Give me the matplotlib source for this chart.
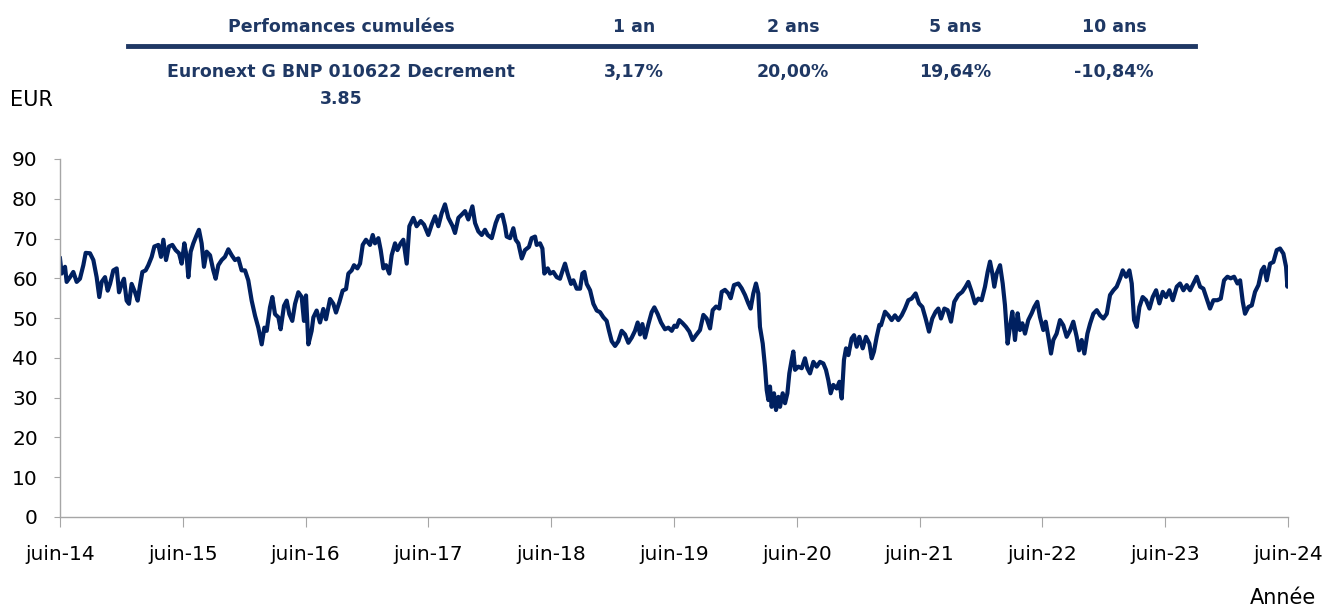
import matplotlib
matplotlib.use("Agg")
import matplotlib.pyplot as plt

# ----------------------------
# Data
# ----------------------------
# months since juin-14
mois = [
    0, 0.16, 0.49, 0.65, 0.98, 1.30, 1.63, 1.95, 2.28, 2.51, 2.93, 3.26, 3.58, 3.84, 4.07,
    4.40, 4.66, 4.89, 5.21, 5.54, 5.77, 6.03, 6.25, 6.51, 6.74, 7.00, 7.33, 7.59, 7.82, 8.05,
    8.37, 8.63, 8.96, 9.22, 9.61, 9.87, 10.10, 10.36, 10.65, 10.98, 11.30, 11.63, 11.89, 12.15,
    12.38, 12.54, 12.77, 13.03, 13.36, 13.58, 13.84, 14.07, 14.33, 14.66, 14.98, 15.21, 15.47,
    15.80, 16.12, 16.45, 16.78, 17.10, 17.43, 17.75, 18.08, 18.40, 18.73, 19.06, 19.38, 19.71,
    19.97,
    20.20, 20.52, 20.75, 21.01, 21.34, 21.56, 21.89, 22.15, 22.41, 22.70, 22.97, 23.29, 23.62,
    23.84, 24.04, 24.27, 24.59, 24.76, 25.08, 25.41, 25.73, 25.99, 26.39, 26.71, 26.97, 27.30,
    27.62, 27.95, 28.18, 28.50, 28.73, 29.06, 29.32, 29.58, 29.90, 30.29, 30.56, 30.78, 31.11,
    31.34, 31.60, 31.86, 32.18, 32.41, 32.74, 32.97, 33.29, 33.55, 33.88, 34.14, 34.53, 34.85,
    35.25, 35.57, 35.99, 36.32, 36.65, 36.97, 37.30, 37.62, 37.95, 38.37, 38.60, 38.93, 39.25,
    39.58, 39.90,
    40.30, 40.56, 40.88, 41.21, 41.53, 41.79, 42.19, 42.58, 42.84, 43.23, 43.49, 43.65, 43.98,
    44.30, 44.53, 44.79, 45.12, 45.44, 45.83, 46.09, 46.42, 46.58, 46.91, 47.14, 47.33, 47.66,
    47.89, 48.21, 48.54, 48.86, 49.12, 49.35, 49.61, 49.94, 50.17, 50.49, 50.82, 51.05, 51.24,
    51.47, 51.80, 52.12, 52.45, 52.77, 53.10, 53.42, 53.65, 53.91, 54.24, 54.56, 54.89, 55.21,
    55.54, 55.87, 56.19, 56.45, 56.68, 56.91, 57.17, 57.50, 57.82, 58.08, 58.41, 58.73, 59.12,
    59.45, 59.78, 60.04,
    60.26, 60.52, 60.85, 61.17, 61.50, 61.82, 62.15, 62.54, 62.87, 63.19, 63.52, 63.78, 64.11,
    64.43, 64.66, 64.98, 65.31, 65.54, 65.86, 66.29, 66.61, 66.94, 67.26, 67.49, 67.75, 68.01,
    68.24, 68.40, 68.67, 68.89, 69.06, 69.22, 69.38, 69.54, 69.77, 69.97, 70.20, 70.36, 70.62,
    70.85, 71.08, 71.27, 71.50, 71.66, 71.83, 72.15, 72.48, 72.80, 73.03, 73.29, 73.62, 73.94,
    74.27, 74.59, 74.85, 75.08, 75.31, 75.57, 75.90, 76.16, 76.39, 76.61, 76.81, 77.04, 77.36,
    77.59, 77.85, 78.11, 78.44, 78.76, 79.09, 79.32, 79.54, 79.81, 80.07,
    80.23, 80.62, 80.94, 81.27, 81.59, 81.92, 82.25, 82.57, 82.90, 83.22, 83.61, 83.94, 84.27,
    84.59, 84.92, 85.24, 85.57, 85.83, 86.09, 86.42, 86.74, 87.07, 87.39, 87.78, 88.17, 88.50,
    88.76, 89.09, 89.41, 89.74, 90.06, 90.39, 90.65, 90.88, 91.11, 91.30, 91.53, 91.86, 92.12,
    92.34, 92.60, 92.83, 93.06, 93.32, 93.58, 93.81, 94.04, 94.30, 94.62, 94.95, 95.21, 95.50,
    95.76, 96.09, 96.32, 96.58, 96.84, 97.07, 97.39, 97.72, 98.04, 98.37, 98.70, 99.02, 99.35,
    99.58, 99.84, 100.10,
    100.40, 100.66, 100.98, 101.31, 101.63, 101.96, 102.29, 102.61, 102.94, 103.26, 103.59,
    103.85, 104.18, 104.50, 104.73, 104.96, 105.22, 105.48, 105.80, 106.13, 106.46, 106.78,
    107.11, 107.43, 107.76, 108.08, 108.41, 108.74, 109.13, 109.45, 109.78, 110.10, 110.43,
    110.75, 111.08, 111.41, 111.73, 112.06, 112.38, 112.71, 113.10, 113.43, 113.75, 114.08,
    114.40, 114.73, 115.06, 115.32, 115.58, 115.80, 116.13, 116.46, 116.78, 117.11, 117.43,
    117.66, 117.92, 118.25, 118.57, 118.90, 119.22, 119.55, 119.81, 119.94, 120.0,
]

# price in EUR
cours = [
    65.0, 61.2, 62.9, 59.1, 60.3, 61.6, 59.1, 59.9, 63.3, 66.4, 66.3, 64.6, 60.3, 55.3, 59.1,
    60.3, 56.9, 58.6, 62.0, 62.5, 56.5, 58.6, 59.9, 54.4, 53.6, 58.6, 56.5, 54.4, 58.2, 61.6,
    62.0, 63.3, 65.4, 68.0, 68.4, 65.4, 69.7, 64.6, 68.0, 68.4, 67.1, 66.3, 63.7, 68.8,
    65.4, 60.3, 66.7, 68.8, 70.9, 72.2, 68.8, 62.9, 66.7, 65.8, 62.0, 59.9, 63.3,
    64.6, 65.4, 67.3, 65.8, 64.6, 65.0, 62.0, 62.0, 59.5, 54.4, 50.6, 47.6, 43.4,
    47.6,
    46.8, 52.7, 55.3, 51.0, 50.2, 47.2, 53.1, 54.4, 51.0, 49.3, 53.6, 56.5, 55.3,
    49.3, 55.7, 43.4, 46.8, 50.2, 51.9, 48.9, 52.3, 49.7, 54.8, 53.6, 51.4, 54.0,
    56.9, 57.3, 61.2, 62.0, 63.3, 62.5, 63.7, 68.4, 69.7, 68.4, 70.9, 68.8, 70.1,
    67.1, 62.5, 63.3, 61.2, 65.8, 68.8, 67.1, 68.8, 69.7, 63.7, 73.1, 75.2, 73.1,
    74.4, 73.5, 70.9, 73.5, 75.6, 73.1, 76.4, 78.6, 75.2, 73.1, 71.4, 75.2, 76.0,
    76.9, 74.8,
    78.1, 73.9, 71.8, 70.9, 72.2, 70.9, 70.1, 73.9, 75.6, 76.0, 73.1, 70.5, 70.1,
    72.6, 69.7, 68.8, 65.0, 67.1, 67.9, 70.1, 70.5, 68.4, 68.8, 67.5, 61.2, 62.5,
    61.2, 61.6, 60.3, 59.9, 62.0, 63.7, 61.2, 58.6, 59.5, 57.4, 57.4, 61.2, 61.6,
    58.6, 57.0, 53.6, 51.9, 51.5, 50.2, 49.3, 46.8, 44.2, 43.0, 44.2, 46.8, 45.9,
    43.8, 45.1, 46.8, 48.9, 45.9, 48.5, 45.1, 48.5, 51.5, 52.7, 51.0, 48.9, 47.2,
    47.6, 46.8, 48.1,
    47.8, 49.5, 48.7, 47.8, 46.6, 44.5, 45.7, 47.0, 50.8, 49.9, 47.4, 52.0, 52.9,
    52.4, 56.6, 57.1, 56.2, 55.0, 58.3, 58.7, 57.5, 55.8, 53.7, 52.4, 56.2, 58.7,
    56.2, 47.8, 43.6, 37.8, 31.9, 29.4, 32.8, 27.7, 31.1, 26.9, 30.2, 27.7, 31.1,
    28.6, 31.1, 36.1, 39.5, 41.6, 37.0, 37.8, 37.4, 39.9, 37.4, 36.1, 39.0, 37.8,
    39.0, 38.6, 37.0, 34.4, 31.1, 33.2, 32.3, 34.0, 29.8, 39.5, 42.4, 40.7, 44.9,
    45.7, 42.8, 45.3, 42.4, 45.3, 43.6, 39.9, 41.6, 45.3, 48.3,
    48.2, 51.6, 50.7, 49.5, 50.7, 49.5, 50.7, 52.4, 54.5, 54.9, 56.2, 53.7, 52.8,
    49.9, 46.6, 49.9, 51.6, 52.4, 49.9, 52.4, 52.0, 49.1, 54.1, 55.8, 56.6, 57.9,
    59.1, 56.6, 53.7, 54.9, 54.5, 57.9, 61.6, 64.2, 61.2, 57.9, 61.2, 63.3, 58.7,
    53.3, 43.6, 47.8, 51.6, 44.5, 51.2, 47.0, 48.7, 46.1, 49.5, 51.2, 52.8, 54.1,
    50.3, 47.0, 49.1, 45.3, 41.1, 44.5, 46.1, 49.5, 48.2, 45.3, 46.9, 49.1, 45.3,
    41.9, 44.5, 41.1,
    46.1, 48.6, 51.1, 52.0, 50.7, 49.9, 51.1, 55.8, 57.0, 57.9, 60.0,
    62.0, 60.4, 62.0, 58.7, 49.5, 47.8, 52.8, 55.3, 54.5, 52.4, 55.3,
    57.0, 53.7, 56.6, 55.3, 57.0, 54.5, 57.9, 58.7, 57.0, 58.3, 57.0,
    58.7, 60.4, 57.9, 57.4, 54.9, 52.4, 54.5, 54.5, 54.9, 59.5, 60.4,
    60.0, 60.4, 58.7, 59.5, 54.1, 51.1, 52.8, 53.2, 56.6, 58.3, 62.0,
    62.9, 59.5, 63.7, 64.1, 67.1, 67.5, 66.2, 62.9, 57.9, 58.7,
]

tick_mois = [0, 12, 24, 36, 48, 60, 72, 84, 96, 108, 120]
tick_labels = ["juin-14", "juin-15", "juin-16", "juin-17", "juin-18", "juin-19",
               "juin-20", "juin-21", "juin-22", "juin-23", "juin-24"]

# performance table
table_header = ["Perfomances cumulées", "1 an", "2 ans", "5 ans", "10 ans"]
table_row = ["Euronext G BNP 010622 Decrement", "3,17%", "20,00%", "19,64%", "-10,84%"]
table_row_extra = "3.85"

# ----------------------------
# Styling
# ----------------------------
NAVY = "#002060"
TABLE_COLOR = "#1F3864"
AXIS_GREY = "#A6A6A6"

fig = plt.figure(figsize=(13.28, 6.08), dpi=100)
ax = fig.add_axes([60 / 1328, 1 - 517 / 608, 1228 / 1328, 358 / 608])

ax.plot(mois, cours, color=NAVY, linewidth=3.0, solid_joinstyle="round")

ax.set_xlim(0, 120)
ax.set_ylim(0, 90)
ax.set_yticks(range(0, 91, 10))
ax.set_xticks(tick_mois)
ax.set_xticklabels(tick_labels)

for side in ["top", "right"]:
    ax.spines[side].set_visible(False)
for side in ["left", "bottom"]:
    ax.spines[side].set_color(AXIS_GREY)
    ax.spines[side].set_linewidth(1.0)

ax.tick_params(axis="y", length=4, color=AXIS_GREY, labelsize=14.5, pad=12)
ax.tick_params(axis="x", length=7, color=AXIS_GREY, labelsize=14.5, pad=13)

# axis titles
fig.text(10 / 1328, 1 - 100 / 608, "EUR", fontsize=15, ha="left", va="center")
fig.text(1316 / 1328, 1 - 598 / 608, "Année", fontsize=15, ha="right", va="center")

# ----------------------------
# Table above chart
# ----------------------------
col_x = [341, 634, 793, 955, 1114]
for x, h in zip(col_x, table_header):
    fig.text(x / 1328, 1 - 27 / 608, h, fontsize=12.5, fontweight="bold",
             color=TABLE_COLOR, ha="center", va="center")
for x, v in zip(col_x, table_row):
    fig.text(x / 1328, 1 - 72 / 608, v, fontsize=12.5, fontweight="bold",
             color=TABLE_COLOR, ha="center", va="center")
fig.text(col_x[0] / 1328, 1 - 99 / 608, table_row_extra, fontsize=12.5, fontweight="bold",
         color=TABLE_COLOR, ha="center", va="center")

fig.add_artist(plt.Line2D([128 / 1328, 1195 / 1328], [1 - 46 / 608, 1 - 46 / 608],
                          transform=fig.transFigure, color=TABLE_COLOR, linewidth=3.5))

fig.savefig("out.png", dpi=100)
